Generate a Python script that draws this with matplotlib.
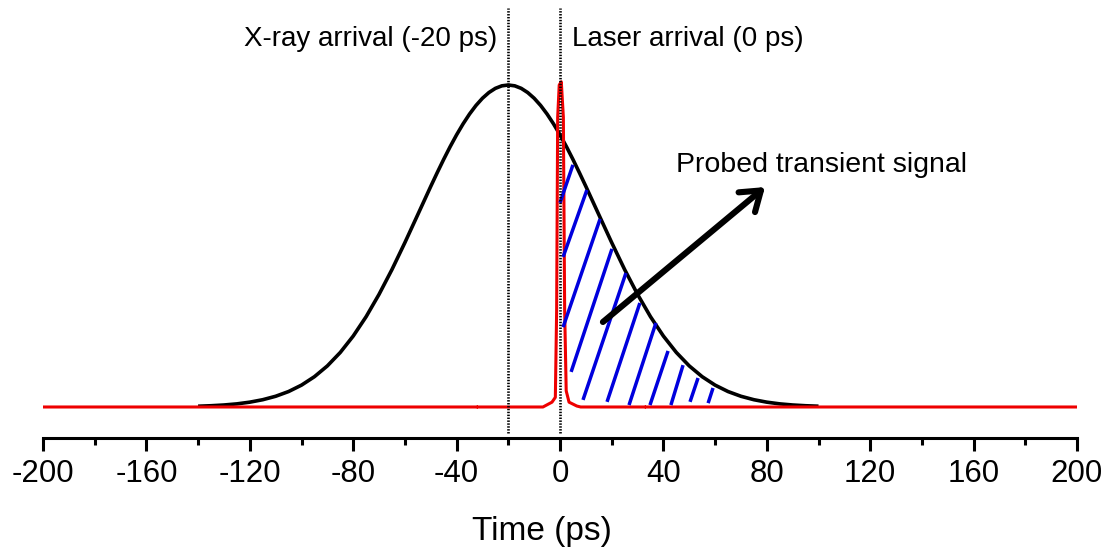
import numpy as np
import matplotlib
matplotlib.use("Agg")
import matplotlib.pyplot as plt
from matplotlib.ticker import AutoMinorLocator

plt.rcParams['font.family'] = ['Liberation Sans', 'DejaVu Sans']

# ---- data ----
# X-ray pulse profile (black curve), time in ps, normalised intensity
xray_t = [-140, -135, -130, -125, -120, -115, -110, -105, -100, -95, -90, -85,
          -80, -75, -70, -65, -60, -55, -50, -47.5, -45, -42.5, -40, -37.5,
          -35, -32.5, -30, -27.5, -25, -22.5, -20, -17.5, -15, -12.5, -10,
          -7.5, -5, -2.5, 0, 2.5, 5, 7.5, 10, 15, 20, 25, 30, 35, 40, 45, 50,
          55, 60, 65, 70, 75, 80, 85, 90, 95, 100]
xray_i = [0.0024, 0.0039, 0.0062, 0.0097, 0.0150, 0.0226, 0.0333, 0.0480,
          0.0679, 0.0941, 0.1276, 0.1694, 0.2203, 0.2805, 0.3499, 0.4270,
          0.5106, 0.5977, 0.6851, 0.7277, 0.7690, 0.8084, 0.8453, 0.8792,
          0.9098, 0.9365, 0.9589, 0.9766, 0.9896, 0.9974, 1.0000, 0.9974,
          0.9896, 0.9766, 0.9589, 0.9365, 0.9098, 0.8792, 0.8453, 0.8084,
          0.7690, 0.7277, 0.6851, 0.5977, 0.5106, 0.4270, 0.3499, 0.2805,
          0.2203, 0.1694, 0.1276, 0.0941, 0.0679, 0.0480, 0.0333, 0.0226,
          0.0150, 0.0097, 0.0062, 0.0039, 0.0024]

# Laser pulse (red curve); NaN marks the small breaks in the trace
laser_t = [-200, -32.4, np.nan, -31.6, -6.6, -3.1, -1.8, -1.3, -0.9, -0.3,
           0.5, 1.3, 1.8, 2.4, 3.5, 6.5, 8.0, 32.6, np.nan, 33.4, 200]
laser_i = [0, 0, np.nan, 0, 0, 0.015, 0.03, 0.3, 0.9, 1.0,
           1.01, 0.9, 0.3, 0.05, 0.015, 0.003, 0, 0, np.nan, 0, 0]

# Hatch strokes marking the probed transient signal
hatch_t_top = [5.0, 10.4, 15.5, 20.1, 25.5, 30.9, 37.1, 41.8, 47.6, 53.4, 59.2]
hatch_i_top = [0.752, 0.674, 0.584, 0.491, 0.416, 0.323, 0.261, 0.174, 0.130, 0.090, 0.059]
hatch_t_bot = [0.0, 1.2, 1.2, 4.3, 8.9, 18.2, 26.7, 34.8, 42.9, 50.3, 57.3]
hatch_i_bot = [0.634, 0.466, 0.248, 0.109, 0.022, 0.016, 0.006, 0.006, 0.006, 0.016, 0.012]

# Arrival times (dotted markers)
arrival_t = [-20, 0]
arrival_labels = ['X-ray arrival (-20 ps)', 'Laser arrival (0 ps)']

# Arrow (tail -> head)
arrow_tail = (16.6, 0.264)
arrow_head = (79.3, 0.683)
arrow_label = 'Probed transient signal'

tick_values = [-200, -160, -120, -80, -40, 0, 40, 80, 120, 160, 200]
tick_labels = ['-200', '-160', '-120', '-80', '-40', '0', '40', '80', '120', '160', '200']
x_label = 'Time (ps)'

# ---- figure ----
W, H = 1109, 550
fig = plt.figure(figsize=(W / 100, H / 100), dpi=100)
ax = fig.add_axes([43 / W, 112 / H, 1034 / W, 438 / H])

ax.set_xlim(-200, 200)
ax.set_ylim(-0.0963, 1.264)

ax.plot(xray_t, xray_i, color='black', lw=2.6, zorder=2,
        solid_capstyle='butt', solid_joinstyle='round')
ax.plot(laser_t, laser_i, color='#ee0000', lw=2.2, zorder=3,
        solid_joinstyle='round')

for t0, i0, t1, i1 in zip(hatch_t_bot, hatch_i_bot, hatch_t_top, hatch_i_top):
    ax.plot([t0, t1], [i0, i1], color='#0000dd', lw=2.5, zorder=4,
            solid_capstyle='butt')

ax.vlines(arrival_t, -0.081, 1.239, colors='black', lw=1.9,
          linestyles=[(0, (0.55, 0.55))], zorder=5)

ax.text(arrival_t[0] - 4.4, 1.121, arrival_labels[0], fontsize=20,
        ha='right', va='baseline')
ax.text(arrival_t[1] + 4.6, 1.121, arrival_labels[1], fontsize=20,
        ha='left', va='baseline')

ax.annotate('', xy=arrow_head, xytext=arrow_tail,
            arrowprops=dict(arrowstyle='->,head_length=0.6,head_width=0.42',
                            lw=4.4, color='black', mutation_scale=22,
                            shrinkA=0, shrinkB=0),
            zorder=6)
ax.text(44.9, 0.730, arrow_label, fontsize=20.5, ha='left', va='baseline')

# axes styling
for s in ['left', 'right', 'top']:
    ax.spines[s].set_visible(False)
ax.spines['bottom'].set_linewidth(2.2)
ax.set_yticks([])
ax.set_xticks(tick_values)
ax.set_xticklabels(tick_labels, fontsize=22.5)
ax.xaxis.set_minor_locator(AutoMinorLocator(2))
ax.tick_params(axis='x', which='major', direction='out', length=9.4, width=2.2, pad=6)
ax.tick_params(axis='x', which='minor', direction='out', length=5, width=2.2)

ax.set_xlabel(x_label, fontsize=24)
ax.xaxis.label.set_va('baseline')
ax.xaxis.set_label_coords(0.4826, -0.2329)

fig.savefig('out.png', dpi=100)
